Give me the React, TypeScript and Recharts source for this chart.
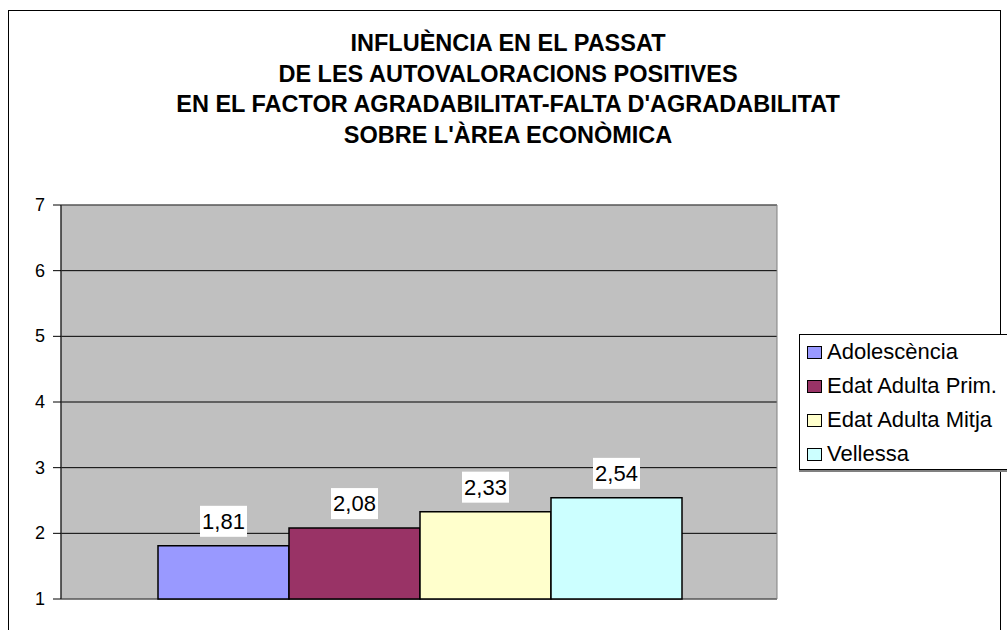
import { BarChart, Bar, XAxis, YAxis, CartesianGrid, Legend, LabelList, ReferenceArea } from "recharts"

const categories = [""]
const seriesNames = ["Adolescència", "Edat Adulta Prim.", "Edat Adulta Mitja", "Vellessa"]
const seriesValues = [1.81, 2.08, 2.33, 2.54]
const seriesColors = ["#9999FF", "#993366", "#FFFFCC", "#CCFFFF"]
const yTicks = [1, 2, 3, 4, 5, 6, 7]
const titleLines = [
  "INFLUÈNCIA EN EL PASSAT",
  "DE LES AUTOVALORACIONS POSITIVES",
  "EN EL FACTOR AGRADABILITAT-FALTA D'AGRADABILITAT",
  "SOBRE L'ÀREA ECONÒMICA",
]

const FONT = "'Liberation Sans', Arial, sans-serif"

// one row per category, one key per series
const data = categories.map((category) => {
  const row: Record<string, string | number> = { category }
  seriesValues.forEach((v, i) => {
    row[`s${i}`] = v
  })
  return row
})

const formatValue = (v: number) => v.toFixed(2).replace(".", ",")

const ValueLabel = (props: any) => {
  const { x, y, width, value } = props
  const cx = x + width / 2
  const boxW = 47
  const boxH = 31
  const top = y - 9 - boxH
  return (
    <g>
      <rect x={cx - boxW / 2} y={top} width={boxW} height={boxH} fill="#ffffff" />
      <text x={cx} y={top + 23} textAnchor="middle" fontSize={22} fontFamily={FONT} fill="#000">
        {formatValue(Number(value))}
      </text>
    </g>
  )
}

const YTick = (props: any) => {
  const { x, y, payload } = props
  return (
    <text x={x} y={y} dy={6} textAnchor="end" fontSize={18} fontFamily={FONT} fill="#000">
      {payload.value}
    </text>
  )
}

const renderLegend = () => (
  <div
    style={{
      border: "1px solid #000",
      boxShadow: "0 2px 0 #808080",
      background: "#fff",
      width: 230,
      height: 134,
      boxSizing: "content-box",
      fontFamily: FONT,
    }}
  >
    {seriesNames.map((name, i) => (
      <div key={name} style={{ display: "flex", alignItems: "center", height: 34, paddingLeft: 7 }}>
        <span
          style={{
            display: "inline-block",
            width: 13,
            height: 11,
            background: seriesColors[i],
            border: "1px solid #000",
            marginRight: 5,
          }}
        />
        <span style={{ fontSize: 22, color: "#000", lineHeight: "34px" }}>{name}</span>
      </div>
    ))}
  </div>
)

export default function App() {
  return (
    <div
      style={{
        position: "absolute",
        left: 0,
        top: 0,
        width: 1007,
        height: 630,
        overflow: "hidden",
        background: "#fff",
        fontFamily: FONT,
      }}
    >
      <div
        style={{
          position: "absolute",
          left: 8,
          top: 10,
          width: 991,
          height: 700,
          border: "1px solid #000",
        }}
      />
      <div
        style={{
          position: "absolute",
          left: 8,
          top: 28,
          width: 1000,
          textAlign: "center",
          fontWeight: "bold",
          fontSize: 23.5,
          lineHeight: "30.7px",
          color: "#000",
        }}
      >
        {titleLines.map((line) => (
          <div key={line}>{line}</div>
        ))}
      </div>
      <div style={{ position: "absolute", left: 0, top: 0 }}>
        <BarChart
          width={1007}
          height={630}
          data={data}
          margin={{ top: 205, right: 230, bottom: 31, left: 0 }}
          barCategoryGap={97}
          barGap={0}
        >
          <CartesianGrid horizontal vertical={false} stroke="#000" fill="#C0C0C0" fillOpacity={1} />
          <XAxis dataKey="category" hide />
          <YAxis
            width={61}
            domain={[1, 7]}
            ticks={yTicks}
            interval={0}
            tickSize={8}
            tickMargin={8}
            axisLine={{ stroke: "#000" }}
            tickLine={{ stroke: "#000" }}
            tick={YTick}
          />
          <ReferenceArea y1={1} y2={7} fill="none" stroke="#808080" strokeWidth={1} />
          {seriesNames.map((name, i) => (
            <Bar
              key={name}
              dataKey={`s${i}`}
              name={name}
              fill={seriesColors[i]}
              stroke="#000"
              strokeWidth={1.5}
              isAnimationActive={false}
            >
              <LabelList dataKey={`s${i}`} content={ValueLabel} />
            </Bar>
          ))}
          <Legend
            layout="vertical"
            align="center"
            verticalAlign="middle"
            content={renderLegend}
            wrapperStyle={{ position: "absolute", left: 799, top: 334, width: 232 }}
          />
        </BarChart>
      </div>
    </div>
  )
}
